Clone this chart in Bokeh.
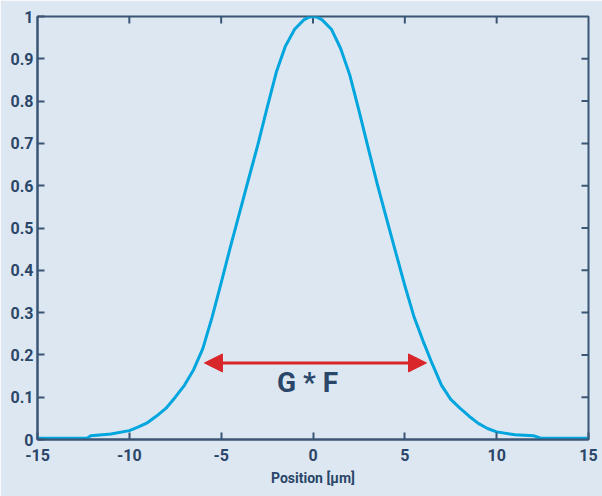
from bokeh.plotting import figure
from bokeh.models import LinearAxis, FixedTicker, Arrow, NormalHead, Label, Range1d
from bokeh.embed import file_html
from bokeh.resources import INLINE

# data
position = [-15, -12.3, -12.1, -11.0, -10.0, -9.5, -9.0, -8.5, -8.0, -7.5, -7.0, -6.5, -6.0,
            -5.5, -5.0, -4.5, -4.0, -3.5, -3.0, -2.5, -2.0, -1.5, -1.0, -0.5, -0.25, 0,
            0.25, 0.5, 1.0, 1.5, 2.0, 2.5, 3.0, 3.5, 4.0, 4.5, 5.0, 5.5, 6.0, 6.5, 7.0,
            7.5, 8.0, 8.5, 9.0, 9.5, 10.0, 11.0, 12.0, 12.4, 15]
intensity = [0.003, 0.003, 0.009, 0.013, 0.021, 0.030, 0.040, 0.056, 0.074, 0.100, 0.128, 0.165, 0.215,
             0.288, 0.370, 0.455, 0.536, 0.617, 0.697, 0.784, 0.868, 0.930, 0.970, 0.992, 0.998, 1.0,
             0.998, 0.992, 0.970, 0.925, 0.862, 0.778, 0.690, 0.604, 0.523, 0.443, 0.364, 0.290, 0.232, 0.178, 0.128,
             0.095, 0.074, 0.055, 0.038, 0.026, 0.018, 0.011, 0.009, 0.003, 0.003]
x_ticks = [-15, -10, -5, 0, 5, 10, 15]
x_tick_labels = ["-15", "-10", "-5", "0", "5", "10", "15"]
y_ticks = [0, 0.1, 0.2, 0.3, 0.4, 0.5, 0.6, 0.7, 0.8, 0.9, 1]
y_tick_labels = ["0", "0.1", "0.2", "0.3", "0.4", "0.5", "0.6", "0.7", "0.8", "0.9", "1"]
arrow_start = -5.91
arrow_end = 6.18
arrow_level = 0.181
annotation_text = "G * F"
annotation_x = -0.3
annotation_y = 0.135
x_label = "Position [µm]"

BG = "#dde7f1"
AX = "#3b5575"
TXT = "#2a4669"
FONT = "Roboto"
FRAME_H = 423
FRAME_W = 551
TICK = 7

p = figure(width=602, height=496, output_backend="svg", toolbar_location=None,
           x_range=Range1d(-15, 15), y_range=Range1d(0, 1),
           x_axis_location=None, y_axis_location=None,
           min_border_left=37, min_border_right=14, min_border_top=16, min_border_bottom=57)
p.background_fill_color = BG
p.border_fill_color = BG
p.outline_line_color = AX
p.outline_line_width = 2
p.xgrid.visible = False
p.ygrid.visible = False

def style(ax, ticks, labels):
    ax.ticker = FixedTicker(ticks=ticks)
    ax.axis_line_color = AX
    ax.axis_line_width = 2
    ax.major_tick_line_color = AX
    ax.major_tick_line_width = 2
    ax.major_tick_in = TICK
    ax.major_tick_out = 0
    ax.minor_tick_line_color = None
    ax.major_label_overrides = {t: l for t, l in zip(ticks, labels)}
    ax.major_label_text_font = FONT
    ax.major_label_text_font_style = "bold"
    ax.major_label_text_font_size = "16px"
    ax.major_label_text_color = TXT

bottom = LinearAxis()
style(bottom, x_ticks, x_tick_labels)
bottom.major_label_standoff = 9
bottom.axis_label = x_label
bottom.axis_label_text_font = FONT
bottom.axis_label_text_font_style = "bold"
bottom.axis_label_text_font_size = "14px"
bottom.axis_label_text_color = TXT
bottom.axis_label_standoff = 6
p.add_layout(bottom, "below")

left = LinearAxis()
style(left, y_ticks, y_tick_labels)
left.major_label_standoff = 4
p.add_layout(left, "left")

# inward ticks on the top and right edges
tx = x_ticks[1:-1]
p.segment(x0=tx, y0=[1] * len(tx), x1=tx, y1=[1 - TICK / FRAME_H] * len(tx),
          line_color=AX, line_width=2)
ty = y_ticks[1:-1]
p.segment(x0=[15] * len(ty), y0=ty, x1=[15 - 30 * TICK / FRAME_W] * len(ty), y1=ty,
          line_color=AX, line_width=2)

p.line(position, intensity, line_color="#00a6dd", line_width=3, line_join="round")

red = "#d9262b"
p.add_layout(Arrow(x_start=arrow_start, y_start=arrow_level, x_end=arrow_end, y_end=arrow_level,
                   line_color=red, line_width=3,
                   start=NormalHead(size=18, fill_color=red, line_color=red),
                   end=NormalHead(size=18, fill_color=red, line_color=red)))
p.add_layout(Label(x=annotation_x, y=annotation_y, text=annotation_text,
                   text_font=FONT, text_font_style="bold", text_font_size="28px",
                   text_color=TXT, text_align="center", text_baseline="middle"))

html = file_html(p, INLINE)
html = html.replace("<body>", '<body style="margin:0;background:%s">' % BG, 1)
open("out.html", "w").write(html)
